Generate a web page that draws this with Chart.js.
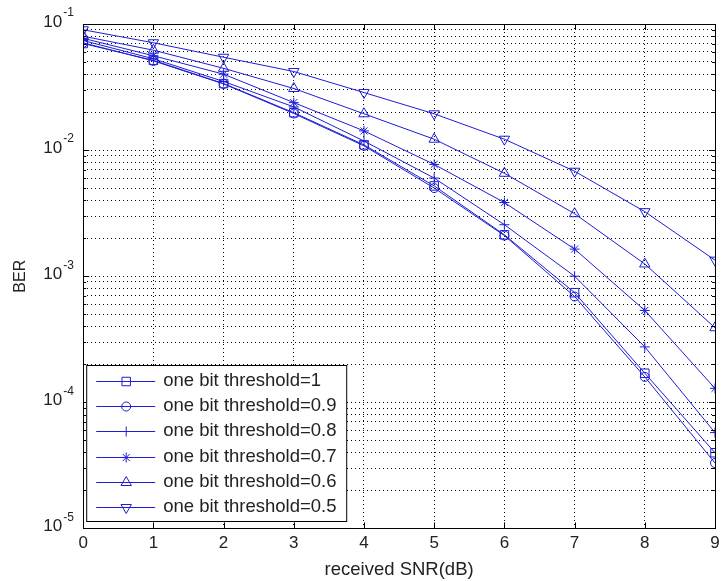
<!DOCTYPE html>
<html>
<head>
<meta charset="utf-8">
<script src="https://cdn.jsdelivr.net/npm/chart.js@4/dist/chart.umd.min.js"></script>
<style>
  html, body { margin: 0; padding: 0; background: #fff; }
  #wrap { width: 722px; height: 581px; position: relative; }
</style>
</head>
<body>
<div id="wrap"><canvas id="myChart"></canvas></div>
<script>
// received SNR in dB
const snr = [0, 1, 2, 3, 4, 5, 6, 7, 8, 9];

// BER values, one array per threshold
const ber10 = [0.070, 0.0515, 0.0337, 0.0198, 0.0110, 0.0052, 0.00213, 0.00074, 0.000170, 0.0000398];
const ber09 = [0.071, 0.0510, 0.0335, 0.0195, 0.0108, 0.0050, 0.00210, 0.00069, 0.000159, 0.0000330];
const ber08 = [0.074, 0.0530, 0.0350, 0.0220, 0.0118, 0.0060, 0.00256, 0.00100, 0.000275, 0.0000575];
const ber07 = [0.077, 0.0560, 0.0400, 0.0238, 0.0142, 0.0077, 0.00384, 0.00164, 0.000535, 0.000129];
const ber06 = [0.080, 0.0620, 0.0445, 0.0308, 0.0194, 0.0122, 0.00655, 0.00313, 0.00125, 0.00039];
const ber05 = [0.090, 0.0710, 0.0545, 0.0420, 0.0286, 0.0194, 0.01220, 0.00680, 0.00325, 0.00134];

const seriesLabels = [
  "one bit threshold=1",
  "one bit threshold=0.9",
  "one bit threshold=0.8",
  "one bit threshold=0.7",
  "one bit threshold=0.6",
  "one bit threshold=0.5"
];

// y axis decades (exponents) for the tick labels
const yExponents = [-5, -4, -3, -2, -1];

const blue = "rgb(30, 30, 215)";
const font = "'Liberation Sans', Arial, sans-serif";

// marker for each series
const markers = [
  { style: "rect", radius: 6, rotation: 0 },
  { style: "circle", radius: 4.5, rotation: 0 },
  { style: "cross", radius: 5, rotation: 0 },
  { style: "star", radius: 5, rotation: 0 },
  { style: "triangle", radius: 6, rotation: 0 },
  { style: "triangle", radius: 6, rotation: 180 }
];

const allSeries = [ber10, ber09, ber08, ber07, ber06, ber05];

function makeDataset(values, i) {
  return {
    label: seriesLabels[i],
    data: values.map((v, k) => ({ x: snr[k], y: v })),
    borderColor: blue,
    borderWidth: 1,
    backgroundColor: "rgba(0,0,0,0)",
    pointStyle: markers[i].style,
    pointRadius: markers[i].radius,
    pointRotation: markers[i].rotation,
    pointBorderColor: blue,
    pointBackgroundColor: "rgba(0,0,0,0)",
    pointBorderWidth: 1,
    tension: 0,
    fill: false
  };
}

// white page, box around the plot and inward tick marks
const framePlugin = {
  id: "frame",
  beforeDraw(chart) {
    const ctx = chart.ctx;
    ctx.save();
    ctx.fillStyle = "#fff";
    ctx.fillRect(0, 0, chart.width, chart.height);
    ctx.restore();
  },
  afterDatasetsDraw(chart) {
    const ctx = chart.ctx;
    const a = chart.chartArea;
    const xs = chart.scales.x, ys = chart.scales.y;
    ctx.save();
    ctx.strokeStyle = "#000";
    ctx.lineWidth = 1;
    ctx.beginPath();
    // x ticks, bottom and top
    xs.ticks.forEach(t => {
      const px = Math.round(xs.getPixelForValue(t.value)) + 0.5;
      ctx.moveTo(px, a.bottom); ctx.lineTo(px, a.bottom - 6);
      ctx.moveTo(px, a.top); ctx.lineTo(px, a.top + 6);
    });
    // y ticks, left and right
    ys.ticks.forEach(t => {
      const py = Math.round(ys.getPixelForValue(t.value)) + 0.5;
      const len = t.major ? 6 : 3;
      ctx.moveTo(a.left, py); ctx.lineTo(a.left + len, py);
      ctx.moveTo(a.right, py); ctx.lineTo(a.right - len, py);
    });
    ctx.stroke();
    ctx.strokeRect(Math.round(a.left) + 0.5, Math.round(a.top) + 0.5,
      Math.round(a.right - a.left), Math.round(a.bottom - a.top));

    // y tick labels as 10 with superscript exponent
    ctx.fillStyle = "#222";
    yExponents.forEach(e => {
      const py = ys.getPixelForValue(Math.pow(10, e));
      ctx.font = "17px " + font;
      ctx.textAlign = "right";
      ctx.textBaseline = "middle";
      ctx.fillText("10", a.left - 21, py - 2);
      ctx.font = "12px " + font;
      ctx.textAlign = "left";
      ctx.fillText(String(e), a.left - 20, py - 11);
    });
    ctx.restore();
  }
};

// legend box in the lower left corner of the plot
const legendPlugin = {
  id: "boxLegend",
  afterDraw(chart) {
    const ctx = chart.ctx;
    const a = chart.chartArea;
    const left = a.left + 3, top = 365, width = 260, height = 156;
    ctx.save();
    ctx.fillStyle = "#fff";
    ctx.fillRect(left, top, width, height);
    ctx.strokeStyle = "#000";
    ctx.lineWidth = 1;
    ctx.strokeRect(left + 0.5, top + 0.5, width, height);
    chart.data.datasets.forEach((ds, i) => {
      const y = top + 16 + i * 25.2;
      ctx.strokeStyle = blue;
      ctx.lineWidth = 1;
      ctx.beginPath();
      ctx.moveTo(left + 10, Math.round(y) + 0.5);
      ctx.lineTo(left + 69, Math.round(y) + 0.5);
      ctx.stroke();
      ctx.fillStyle = "rgba(0,0,0,0)";
      Chart.helpers.drawPoint(ctx, {
        pointStyle: ds.pointStyle,
        radius: ds.pointRadius,
        rotation: ds.pointRotation,
        borderWidth: 1
      }, left + 40, Math.round(y) + 0.5);
      ctx.fillStyle = "#222";
      ctx.font = "18.5px " + font;
      ctx.textAlign = "left";
      ctx.textBaseline = "middle";
      ctx.fillText(ds.label, left + 77, y);
    });
    ctx.restore();
  }
};

const ctx = document.getElementById("myChart").getContext("2d");
const myChart = new Chart(ctx, {
  type: "line",
  data: { datasets: allSeries.map(makeDataset) },
  options: {
    responsive: true,
    maintainAspectRatio: false,
    animation: false,
    layout: { padding: { left: 0, right: 0, top: 24, bottom: 0 } },
    plugins: { legend: { display: false }, tooltip: { enabled: false } },
    scales: {
      x: {
        type: "linear",
        min: 0,
        max: 9,
        afterFit(scale) {
          // leave only half of the last label outside the plot
          scale.paddingLeft = 0;
          scale.paddingRight = 5;
        },
        ticks: { stepSize: 1, color: "#222", font: { family: font, size: 17 }, padding: 5 },
        grid: { color: "#000", drawTicks: false, lineWidth: 1 },
        border: { display: false, dash: [1, 3] },
        title: {
          display: true,
          text: "received SNR(dB)",
          color: "#222",
          font: { family: font, size: 18.5 },
          padding: { top: 0, bottom: 0 }
        }
      },
      y: {
        type: "logarithmic",
        min: 1e-5,
        max: 1e-1,
        afterBuildTicks(scale) {
          const t = [];
          yExponents.forEach(e => {
            for (let m = 1; m <= 9; m++) {
              const v = m * Math.pow(10, e);
              if (v <= 0.1 + 1e-12) t.push({ value: v, major: m === 1 });
            }
          });
          scale.ticks = t;
        },
        ticks: { display: false, autoSkip: false },
        grid: { color: "#000", drawTicks: false, lineWidth: 1 },
        border: { display: false, dash: [1, 3] },
        title: {
          display: true,
          text: "BER",
          color: "#222",
          font: { family: font, size: 16 },
          padding: { top: 11, bottom: 53 }
        }
      }
    }
  },
  plugins: [framePlugin, legendPlugin]
});
</script>
</body>
</html>
